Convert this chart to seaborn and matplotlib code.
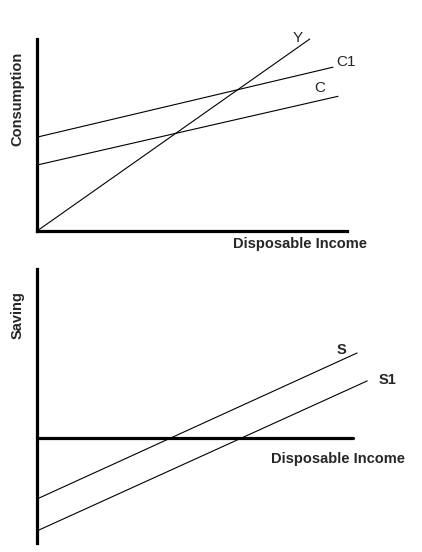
import matplotlib
matplotlib.use("Agg")
import matplotlib.pyplot as plt
import seaborn as sns
import pandas as pd

sns.set_style("white")
plt.rcParams["font.family"] = ["Liberation Sans", "DejaVu Sans"]

# ---- data (abstract units) ----
income_top = [0.0, 8.8]
y_line = [0.0, 6.2]
c1_x = [0.0, 9.55]
c1_y = [3.03, 5.29]
c_x = [0.0, 9.71]
c_y = [2.13, 4.35]

s_x = [0.0, 10.32]
s_y = [-1.97, 2.74]
s1_x = [0.0, 10.65]
s1_y = [-3.0, 1.84]

W, H = 422, 552
fig = plt.figure(figsize=(W / 100, H / 100), dpi=100)
fig.patch.set_facecolor("white")

def box(l, t, r, b):
    return [l / W, 1 - b / H, (r - l) / W, (b - t) / H]

# ---- top panel ----
ax1 = fig.add_axes(box(37, 39, 347, 231))
for xs, ys in [(income_top, y_line), (c1_x, c1_y), (c_x, c_y)]:
    df = pd.DataFrame({"x": xs, "y": ys})
    sns.lineplot(data=df, x="x", y="y", ax=ax1, color="black", lw=0.8, clip_on=False)
ax1.set_xlim(0, 10)
ax1.set_ylim(0, 6.2)
for s in ["top", "right"]:
    ax1.spines[s].set_visible(False)
for s in ["left", "bottom"]:
    ax1.spines[s].set_linewidth(2.3)
    ax1.spines[s].set_color("black")
ax1.set_xticks([]); ax1.set_yticks([])
ax1.set_xlabel(""); ax1.set_ylabel("")
ax1.patch.set_alpha(0)

# ---- bottom panel ----
ax2 = fig.add_axes(box(37, 269, 353, 543))
for xs, ys in [(s_x, s_y), (s1_x, s1_y)]:
    df = pd.DataFrame({"x": xs, "y": ys})
    sns.lineplot(data=df, x="x", y="y", ax=ax2, color="black", lw=0.8, clip_on=False)
ax2.set_xlim(0, 10.19)
ax2.set_ylim(-3.39, 5.45)
ax2.axhline(0, color="black", lw=2.3, clip_on=False)
for s in ["top", "right", "bottom"]:
    ax2.spines[s].set_visible(False)
ax2.spines["left"].set_linewidth(2.3)
ax2.spines["left"].set_color("black")
ax2.set_xticks([]); ax2.set_yticks([])
ax2.set_xlabel(""); ax2.set_ylabel("")
ax2.patch.set_alpha(0)

def ptext(x, y, s, **kw):
    fig.text(x / W, 1 - y / H, s, **kw)

fs = 10.5
ptext(233, 244, "Disposable Income", fontsize=fs, fontweight="bold", ha="left", va="center")
ptext(271, 458.5, "Disposable Income", fontsize=fs, fontweight="bold", ha="left", va="center")
ptext(17.5, 99, "Consumption", fontsize=fs, fontweight="bold", rotation=90, ha="center", va="center")
ptext(17.5, 315, "Saving", fontsize=fs, fontweight="bold", rotation=90, ha="center", va="center")
ptext(297.5, 37.5, "Y", fontsize=fs + 0.5, ha="center", va="center")
ptext(346, 62.5, "C1", fontsize=fs + 0.5, ha="center", va="center")
ptext(320, 88.5, "C", fontsize=fs + 0.5, ha="center", va="center")
ptext(341.5, 350, "S", fontsize=fs, fontweight="bold", ha="center", va="center")
ptext(387, 380, "S1", fontsize=fs, fontweight="bold", ha="center", va="center")

fig.savefig("out.png", dpi=100, facecolor="white")
